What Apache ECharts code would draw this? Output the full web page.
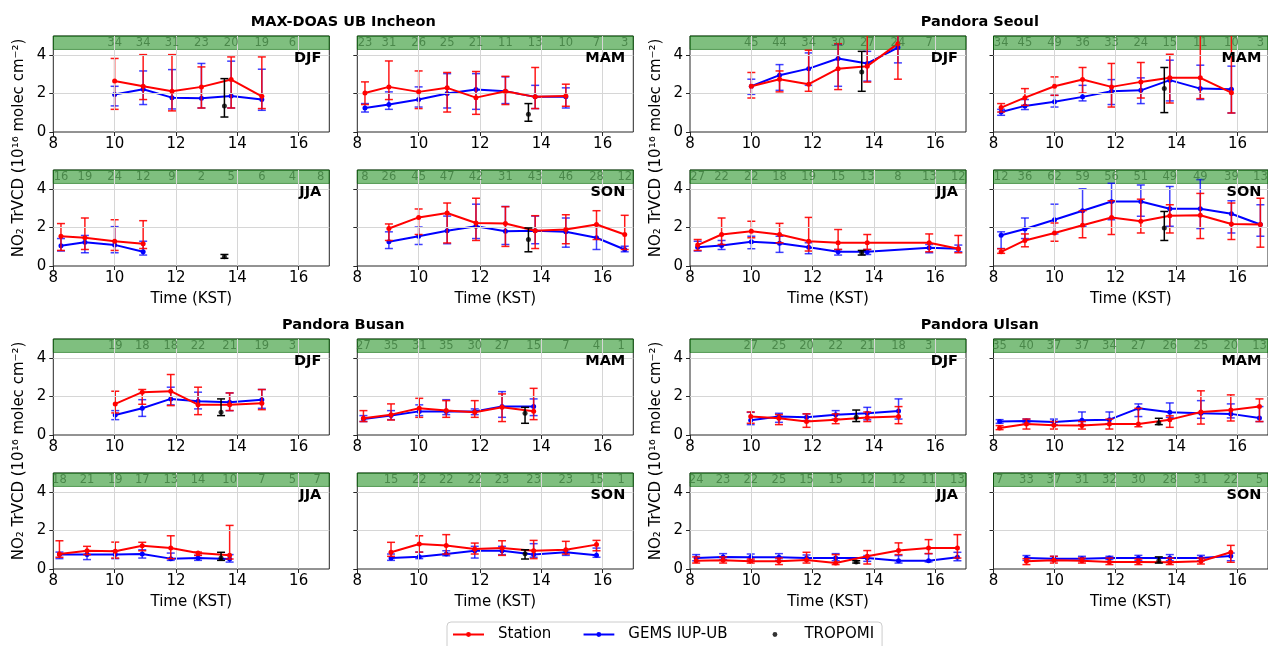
<!DOCTYPE html>
<html>
<head>
<meta charset="utf-8">
<title>NO2 TrVCD diurnal</title>
<script src="https://cdn.jsdelivr.net/npm/echarts@6/dist/echarts.min.js"></script>
<style>
  html, body { margin: 0; padding: 0; background: #fff; }
  #main { width: 1268px; height: 646px; }
</style>
</head>
<body>
<div id="main"></div>
<script>
// ---- data, each entry [mean, low, high] ----
const SITES = ['MAX-DOAS UB Incheon', 'Pandora Seoul', 'Pandora Busan', 'Pandora Ulsan'];
const SEASONS = ['DJF', 'MAM', 'JJA', 'SON'];
const X_TICKS = [8, 10, 12, 14, 16];
const Y_TICKS = [0, 2, 4];

const HOURS_INCHEON = [8.25, 9.03, 10.0, 10.93, 11.87, 12.83, 13.8, 14.8, 15.8, 16.72];
const HOURS_SEOUL = [8.25, 9.03, 10.0, 10.92, 11.87, 12.83, 13.78, 14.78, 15.8, 16.75];
const HOURS_BUSAN = [8.2, 9.1, 10.02, 10.9, 11.83, 12.72, 13.75, 14.8, 15.8, 16.6];
const HOURS_ULSAN = [8.2, 9.08, 9.98, 10.9, 11.8, 12.75, 13.78, 14.8, 15.78, 16.72];
const TROPOMI_HOUR = [13.58, 13.6, 13.47, 13.42];

const INCHEON_DJF_N = [null, null, 34, 34, 31, 23, 20, 19, 6, null];
const INCHEON_DJF_STATION = [null, null, [2.66, 1.18, 3.83], [2.38, 1.69, 4.03], [2.12, 1.10, 4.03], [2.35, 1.25, 3.39], [2.73, 1.25, 3.91], [1.86, 1.22, 3.91], null, null];
const INCHEON_DJF_GEMS = [null, null, [1.95, 1.36, 2.38], [2.23, 1.43, 3.18], [1.79, 1.20, 3.25], [1.76, 1.25, 3.57], [1.88, 1.25, 3.69], [1.69, 1.13, 3.27], null, null];
const INCHEON_DJF_TROPOMI = [1.36, 0.78, 2.78];

const INCHEON_MAM_N = [23, 31, 26, 25, 21, 11, 13, 10, 7, 3];
const INCHEON_MAM_STATION = [[2.03, 1.43, 2.61], [2.35, 1.69, 3.70], [2.09, 1.22, 3.18], [2.30, 1.04, 3.10], [1.79, 0.92, 3.15], [2.12, 1.43, 2.90], [1.83, 1.22, 3.36], [1.88, 1.34, 2.49], null, null];
const INCHEON_MAM_GEMS = [[1.25, 1.04, 1.48], [1.43, 1.18, 2.09], [1.69, 1.30, 2.35], [2.00, 1.25, 3.04], [2.21, 1.18, 3.04], [2.12, 1.48, 2.87], [1.83, 1.22, 2.43], [1.83, 1.25, 2.30], null, null];
const INCHEON_MAM_TROPOMI = [0.92, 0.56, 1.48];

const INCHEON_JJA_N = [16, 19, 24, 12, 9, 2, 5, 6, 4, 8];
const INCHEON_JJA_STATION = [[1.55, 0.81, 2.21], [1.47, 0.86, 2.50], [1.29, 0.81, 2.41], [1.16, 0.91, 2.36], null, null, null, null, null, null];
const INCHEON_JJA_GEMS = [[1.05, 0.78, 1.43], [1.24, 0.69, 1.59], [1.10, 0.69, 2.05], [0.74, 0.57, 1.29], null, null, null, null, null, null];
const INCHEON_JJA_TROPOMI = [0.48, 0.40, 0.60];

const INCHEON_SON_N = [8, 26, 45, 47, 42, 31, 43, 46, 28, 12];
const INCHEON_SON_STATION = [null, [1.95, 1.33, 2.19], [2.53, 1.64, 2.97], [2.76, 1.20, 3.28], [2.24, 1.33, 3.53], [2.21, 1.02, 3.09], [1.84, 0.91, 2.62], [1.90, 1.16, 2.67], [2.16, 1.38, 2.88], [1.64, 0.86, 2.64]];
const INCHEON_SON_GEMS = [null, [1.26, 0.91, 1.78], [1.55, 1.12, 2.03], [1.84, 1.16, 2.60], [2.07, 1.43, 3.22], [1.81, 1.12, 3.10], [1.84, 1.16, 2.60], [1.78, 0.98, 2.50], [1.47, 0.86, 2.12], [0.86, 0.74, 1.03]];
const INCHEON_SON_TROPOMI = [1.38, 0.74, 1.98];

const SEOUL_DJF_N = [null, null, 45, 44, 34, 30, 27, 24, 7, null];
const SEOUL_DJF_STATION = [null, null, [2.38, 1.77, 3.10], [2.75, 2.09, 3.18], [2.49, 2.12, 4.26], [3.30, 2.21, 4.60], [3.43, 2.60, 6.0], [4.60, 2.75, 6.5], null, null];
const SEOUL_DJF_GEMS = [null, null, [2.38, 1.96, 2.75], [2.96, 2.17, 3.51], [3.30, 2.43, 4.12], [3.83, 2.38, 4.55], [3.57, 2.65, 4.20], [4.40, 3.60, 5.20], null, null];
const SEOUL_DJF_TROPOMI = [3.13, 2.12, 4.20];

const SEOUL_MAM_N = [34, 45, 49, 36, 33, 24, 15, 11, 10, 3];
const SEOUL_MAM_STATION = [[1.27, 1.04, 1.48], [1.79, 1.39, 2.26], [2.38, 1.91, 2.87], [2.73, 2.03, 3.36], [2.35, 1.30, 3.57], [2.61, 1.77, 3.62], [2.83, 1.51, 4.05], [2.82, 1.74, 5.6], [2.05, 0.99, 5.6], null];
const SEOUL_MAM_GEMS = [[1.04, 0.87, 1.18], [1.36, 1.17, 1.69], [1.57, 1.30, 1.91], [1.83, 1.62, 2.43], [2.12, 1.43, 2.73], [2.17, 1.48, 2.82], [2.70, 1.62, 3.74], [2.26, 1.69, 3.48], [2.23, 0.99, 3.43], null];
const SEOUL_MAM_TROPOMI = [2.26, 1.01, 3.36];

const SEOUL_JJA_N = [27, 22, 22, 18, 19, 15, 13, 8, 13, 12];
const SEOUL_JJA_STATION = [[1.09, 0.81, 1.38], [1.64, 1.12, 2.50], [1.81, 1.47, 2.33], [1.64, 1.21, 2.22], [1.29, 0.78, 2.53], [1.21, 0.86, 1.90], [1.21, 0.86, 1.64], null, [1.21, 0.74, 1.67], [0.90, 0.69, 1.59]];
const SEOUL_JJA_GEMS = [[0.98, 0.78, 1.29], [1.07, 0.86, 1.33], [1.26, 0.90, 1.55], [1.19, 0.71, 1.55], [0.98, 0.64, 1.21], [0.74, 0.57, 0.86], [0.74, 0.60, 0.86], null, [0.95, 0.69, 1.12], [0.90, 0.74, 1.09]];
const SEOUL_JJA_TROPOMI = [0.69, 0.57, 0.81];

const SEOUL_SON_N = [12, 36, 62, 59, 56, 51, 49, 49, 39, 13];
const SEOUL_SON_STATION = [[0.74, 0.66, 0.90], [1.33, 1.00, 1.67], [1.72, 1.29, 2.24], [2.12, 1.47, 2.88], [2.53, 1.64, 3.40], [2.33, 1.72, 3.48], [2.62, 1.72, 3.19], [2.64, 1.43, 3.78], [2.19, 1.38, 3.28], [2.16, 0.98, 3.53]];
const SEOUL_SON_GEMS = [[1.60, 0.91, 1.78], [1.93, 1.43, 2.50], [2.41, 1.67, 3.22], [2.88, 2.07, 4.02], [3.36, 2.41, 4.31], [3.36, 2.59, 4.22], [2.98, 2.07, 4.14], [2.98, 1.95, 4.50], [2.72, 1.72, 3.40], [2.16, 1.55, 3.19]];
const SEOUL_SON_TROPOMI = [1.98, 1.33, 2.84];

const BUSAN_DJF_N = [null, null, 19, 18, 18, 22, 21, 19, 3, null];
const BUSAN_DJF_STATION = [null, null, [1.62, 1.15, 2.28], [2.23, 1.60, 2.37], [2.28, 1.53, 3.15], [1.58, 1.06, 2.49], [1.58, 1.27, 2.19], [1.65, 1.32, 2.37], null, null];
const BUSAN_DJF_GEMS = [null, null, [1.04, 0.80, 1.27], [1.39, 0.97, 1.84], [1.88, 1.57, 2.49], [1.76, 1.36, 2.23], [1.70, 1.27, 2.19], [1.83, 1.39, 2.37], null, null];
const BUSAN_DJF_TROPOMI = [1.18, 1.01, 1.88];

const BUSAN_MAM_N = [27, 35, 31, 35, 30, 27, 15, 7, 4, 1];
const BUSAN_MAM_STATION = [[0.87, 0.70, 1.27], [1.06, 0.78, 1.62], [1.39, 0.92, 1.91], [1.27, 0.92, 1.79], [1.18, 0.92, 1.79], [1.44, 0.70, 2.14], [1.24, 0.80, 2.43], null, null, null];
const BUSAN_MAM_GEMS = [[0.83, 0.70, 1.01], [1.01, 0.80, 1.27], [1.23, 1.01, 1.57], [1.22, 1.06, 1.84], [1.22, 1.06, 1.36], [1.48, 0.92, 2.26], [1.48, 1.01, 1.88], null, null, null];
const BUSAN_MAM_TROPOMI = [1.13, 0.61, 1.44];

const BUSAN_JJA_N = [18, 21, 19, 17, 13, 14, 10, 7, 5, 7];
const BUSAN_JJA_STATION = [[0.78, 0.61, 1.47], [0.95, 0.75, 1.18], [0.92, 0.57, 1.40], [1.21, 0.95, 1.39], [1.09, 0.54, 1.73], [0.83, 0.71, 0.88], [0.71, 0.52, 2.27], null, null, null];
const BUSAN_JJA_GEMS = [[0.75, 0.54, 0.88], [0.75, 0.49, 0.92], [0.75, 0.54, 0.95], [0.78, 0.57, 1.00], [0.54, 0.45, 0.83], [0.57, 0.45, 0.71], [0.52, 0.36, 0.75], null, null, null];
const BUSAN_JJA_TROPOMI = [0.57, 0.45, 0.87];

const BUSAN_SON_N = [null, 15, 22, 22, 22, 23, 23, 23, 15, 1];
const BUSAN_SON_STATION = [null, [0.87, 0.66, 1.39], [1.30, 0.88, 1.73], [1.23, 0.78, 1.79], [1.04, 0.78, 1.35], [1.09, 0.71, 1.47], [0.95, 0.54, 1.49], [1.00, 0.78, 1.44], [1.27, 0.95, 1.49], null];
const BUSAN_SON_GEMS = [null, [0.57, 0.45, 0.78], [0.64, 0.54, 0.88], [0.78, 0.69, 0.95], [0.95, 0.57, 1.18], [0.95, 0.75, 1.18], [0.75, 0.61, 1.32], [0.87, 0.71, 1.00], [0.71, 0.61, 1.09], null];
const BUSAN_SON_TROPOMI = [0.80, 0.52, 1.00];

const ULSAN_DJF_N = [null, null, 27, 25, 20, 22, 21, 18, 3, null];
const ULSAN_DJF_STATION = [null, null, [0.96, 0.61, 1.20], [0.87, 0.54, 1.06], [0.70, 0.40, 1.10], [0.79, 0.59, 1.10], [0.91, 0.70, 1.20], [0.97, 0.59, 1.48], null, null];
const ULSAN_DJF_GEMS = [null, null, [0.77, 0.54, 1.18], [0.96, 0.66, 1.13], [0.92, 0.75, 1.10], [1.06, 0.83, 1.27], [1.13, 0.79, 1.44], [1.25, 0.83, 1.88], null, null];
const ULSAN_DJF_TROPOMI = [0.92, 0.70, 1.30];

const ULSAN_MAM_N = [35, 40, 37, 37, 34, 27, 26, 25, 20, 13];
const ULSAN_MAM_STATION = [[0.37, 0.28, 0.49], [0.57, 0.31, 0.83], [0.51, 0.31, 0.70], [0.49, 0.31, 0.70], [0.57, 0.31, 0.83], [0.57, 0.43, 1.39], [0.80, 0.40, 1.00], [1.20, 0.57, 2.30], [1.30, 0.73, 2.09], [1.48, 0.70, 1.88]];
const ULSAN_MAM_GEMS = [[0.70, 0.61, 0.80], [0.73, 0.63, 0.83], [0.68, 0.54, 0.83], [0.77, 0.54, 1.20], [0.80, 0.59, 1.20], [1.39, 0.96, 1.62], [1.18, 0.92, 1.67], [1.13, 0.87, 1.79], [1.10, 0.89, 1.62], [0.89, 0.70, 1.48]];
const ULSAN_MAM_TROPOMI = [0.63, 0.54, 0.87];

const ULSAN_JJA_N = [24, 23, 22, 25, 15, 15, 12, 12, 11, 13];
const ULSAN_JJA_STATION = [[0.43, 0.31, 0.63], [0.45, 0.31, 0.63], [0.40, 0.31, 0.52], [0.40, 0.23, 0.57], [0.47, 0.31, 0.87], [0.31, 0.23, 0.75], [0.66, 0.26, 0.96], [0.96, 0.75, 1.36], [1.10, 0.80, 1.53], [1.10, 0.57, 1.79]];
const ULSAN_JJA_GEMS = [[0.57, 0.43, 0.75], [0.63, 0.49, 0.80], [0.61, 0.45, 0.78], [0.61, 0.45, 0.80], [0.57, 0.45, 0.73], [0.57, 0.43, 0.80], [0.57, 0.40, 0.70], [0.43, 0.31, 0.70], [0.43, 0.37, 0.80], [0.61, 0.43, 0.87]];
const ULSAN_JJA_TROPOMI = [0.37, 0.31, 0.43];

const ULSAN_SON_N = [7, 33, 37, 31, 32, 30, 28, 31, 22, 5];
const ULSAN_SON_STATION = [null, [0.40, 0.23, 0.54], [0.45, 0.31, 0.66], [0.43, 0.31, 0.57], [0.37, 0.23, 0.57], [0.37, 0.23, 0.52], [0.35, 0.23, 0.57], [0.40, 0.26, 0.57], [0.87, 0.35, 1.23], null];
const ULSAN_SON_GEMS = [null, [0.57, 0.45, 0.70], [0.54, 0.43, 0.66], [0.54, 0.43, 0.66], [0.57, 0.49, 0.66], [0.57, 0.43, 0.71], [0.57, 0.43, 0.75], [0.57, 0.43, 0.71], [0.68, 0.43, 0.83], null];
const ULSAN_SON_TROPOMI = [0.43, 0.31, 0.63];

// ---- assemble panels from the arrays above ----
const HOURS = [HOURS_INCHEON, HOURS_SEOUL, HOURS_BUSAN, HOURS_ULSAN];
const PANELS = [
  [INCHEON_DJF_N, INCHEON_DJF_STATION, INCHEON_DJF_GEMS, INCHEON_DJF_TROPOMI],
  [INCHEON_MAM_N, INCHEON_MAM_STATION, INCHEON_MAM_GEMS, INCHEON_MAM_TROPOMI],
  [INCHEON_JJA_N, INCHEON_JJA_STATION, INCHEON_JJA_GEMS, INCHEON_JJA_TROPOMI],
  [INCHEON_SON_N, INCHEON_SON_STATION, INCHEON_SON_GEMS, INCHEON_SON_TROPOMI],
  [SEOUL_DJF_N, SEOUL_DJF_STATION, SEOUL_DJF_GEMS, SEOUL_DJF_TROPOMI],
  [SEOUL_MAM_N, SEOUL_MAM_STATION, SEOUL_MAM_GEMS, SEOUL_MAM_TROPOMI],
  [SEOUL_JJA_N, SEOUL_JJA_STATION, SEOUL_JJA_GEMS, SEOUL_JJA_TROPOMI],
  [SEOUL_SON_N, SEOUL_SON_STATION, SEOUL_SON_GEMS, SEOUL_SON_TROPOMI],
  [BUSAN_DJF_N, BUSAN_DJF_STATION, BUSAN_DJF_GEMS, BUSAN_DJF_TROPOMI],
  [BUSAN_MAM_N, BUSAN_MAM_STATION, BUSAN_MAM_GEMS, BUSAN_MAM_TROPOMI],
  [BUSAN_JJA_N, BUSAN_JJA_STATION, BUSAN_JJA_GEMS, BUSAN_JJA_TROPOMI],
  [BUSAN_SON_N, BUSAN_SON_STATION, BUSAN_SON_GEMS, BUSAN_SON_TROPOMI],
  [ULSAN_DJF_N, ULSAN_DJF_STATION, ULSAN_DJF_GEMS, ULSAN_DJF_TROPOMI],
  [ULSAN_MAM_N, ULSAN_MAM_STATION, ULSAN_MAM_GEMS, ULSAN_MAM_TROPOMI],
  [ULSAN_JJA_N, ULSAN_JJA_STATION, ULSAN_JJA_GEMS, ULSAN_JJA_TROPOMI],
  [ULSAN_SON_N, ULSAN_SON_STATION, ULSAN_SON_GEMS, ULSAN_SON_TROPOMI]
];

// layout
const COL_LEFT = [53.3, 357.3, 690, 993.5];
const ROW_TOP = [36, 170, 339, 473];
const PW = 276, PH = 96;
const YMAX = 5, BAND_LO = 4.3, COUNT_Y = 4.62;
const FONT = "'DejaVu Sans', sans-serif";
const GRID_COLOR = '#d6d6d6';

function legendIcon(color, withLine) {
  const svg = '<svg xmlns="http://www.w3.org/2000/svg" width="40" height="14" viewBox="0 0 40 14">' +
    (withLine ? '<line x1="0" y1="7" x2="31" y2="7" stroke="' + color + '" stroke-width="2"/>' : '') +
    '<circle cx="15.5" cy="7" r="2.4" fill="' + color + '"/></svg>';
  return 'image://data:image/svg+xml;charset=utf-8,' + encodeURIComponent(svg);
}

function errorBars(color, opacity, width) {
  return function (params, api) {
    const x = api.value(0), lo = api.value(2), hi = api.value(3);
    const pLo = api.coord([x, lo]);
    const pHi = api.coord([x, Math.min(hi, YMAX)]);
    const st = { stroke: color, lineWidth: width, opacity: opacity };
    const kids = [
      { type: 'line', shape: { x1: pLo[0], y1: pLo[1], x2: pHi[0], y2: pHi[1] }, style: st },
      { type: 'line', shape: { x1: pLo[0] - 4, y1: pLo[1], x2: pLo[0] + 4, y2: pLo[1] }, style: st }
    ];
    if (hi <= YMAX) {
      kids.push({ type: 'line', shape: { x1: pHi[0] - 4, y1: pHi[1], x2: pHi[0] + 4, y2: pHi[1] }, style: st });
    }
    return { type: 'group', children: kids };
  };
}

const grid = [], xAxis = [], yAxis = [], series = [], graphic = [];

PANELS.forEach(function (p, i) {
  const site = Math.floor(i / 4), season = i % 4;
  const col = (site % 2) * 2 + (season % 2);
  const row = Math.floor(site / 2) * 2 + Math.floor(season / 2);
  const hours = HOURS[site];
  const [counts, stn, gems, tro] = p;
  const bottomRow = row % 2 === 1;
  const leftCol = col % 2 === 0;

  grid.push({ left: COL_LEFT[col], top: ROW_TOP[row], width: PW, height: PH,
    show: true, borderColor: '#262626', borderWidth: 1, backgroundColor: 'transparent' });

  xAxis.push({
    gridIndex: i, type: 'value', min: 8, max: 17, interval: 2,
    name: bottomRow ? 'Time (KST)' : '', nameLocation: 'middle', nameGap: 26,
    nameTextStyle: { fontSize: 15, color: '#000', fontFamily: FONT },
    axisLine: { show: false },
    axisTick: { show: true, length: 4, customValues: X_TICKS, lineStyle: { color: '#262626' } },
    axisLabel: { fontSize: 15, color: '#000', margin: 5, fontFamily: FONT, customValues: X_TICKS },
    splitLine: { show: false }
  });
  yAxis.push({
    gridIndex: i, type: 'value', min: 0, max: YMAX, interval: 2,
    axisLine: { show: false },
    axisTick: { show: true, length: 4, customValues: Y_TICKS, lineStyle: { color: '#262626' } },
    axisLabel: { show: leftCol, fontSize: 15, color: '#000', margin: 7, fontFamily: FONT, customValues: Y_TICKS },
    splitLine: { show: false }
  });

  // grid lines at the tick values
  series.push({ type: 'scatter', name: 'gridlines', xAxisIndex: i, yAxisIndex: i, z: 1, silent: true,
    data: [[8, 0]], symbolSize: 0,
    markLine: { silent: true, symbol: 'none', label: { show: false },
      lineStyle: { color: GRID_COLOR, width: 1, type: 'solid' },
      data: X_TICKS.slice(1).map(function (v) { return { xAxis: v }; })
        .concat(Y_TICKS.slice(1).map(function (v) { return { yAxis: v }; })) } });

  const pts = function (arr) {
    const out = [];
    arr.forEach(function (v, k) { if (v) out.push([hours[k], v[0], v[1], v[2]]); });
    return out;
  };
  const gemsPts = pts(gems), stnPts = pts(stn);

  series.push({ type: 'custom', name: 'gems-err', xAxisIndex: i, yAxisIndex: i, z: 2,
    renderItem: errorBars('#0000ff', 0.75, 1.5), data: gemsPts, silent: true });
  series.push({ type: 'line', name: 'GEMS IUP-UB', xAxisIndex: i, yAxisIndex: i, z: 3,
    data: gemsPts.map(function (d) { return [d[0], d[1]]; }),
    symbol: 'circle', symbolSize: 5, showSymbol: true,
    lineStyle: { color: '#0000ff', width: 2 }, itemStyle: { color: '#0000ff' } });
  series.push({ type: 'custom', name: 'station-err', xAxisIndex: i, yAxisIndex: i, z: 4,
    renderItem: errorBars('#ff0000', 0.9, 1.5), data: stnPts, silent: true });
  series.push({ type: 'line', name: 'Station', xAxisIndex: i, yAxisIndex: i, z: 5,
    data: stnPts.map(function (d) { return [d[0], d[1]]; }),
    symbol: 'circle', symbolSize: 5, showSymbol: true,
    lineStyle: { color: '#ff0000', width: 2 }, itemStyle: { color: '#ff0000' } });
  const troPt = [[TROPOMI_HOUR[site], tro[0], tro[1], tro[2]]];
  series.push({ type: 'custom', name: 'tropomi-err', xAxisIndex: i, yAxisIndex: i, z: 6,
    renderItem: errorBars('#000000', 1, 1.5), data: troPt, silent: true });
  series.push({ type: 'scatter', name: 'TROPOMI', xAxisIndex: i, yAxisIndex: i, z: 6,
    data: [[troPt[0][0], troPt[0][1]]], symbolSize: 5, itemStyle: { color: '#000' } });

  // green band with number of days per hour
  const countPts = [];
  counts.forEach(function (c, k) { if (c != null) countPts.push([hours[k], COUNT_Y, c]); });
  series.push({ type: 'scatter', name: 'count', xAxisIndex: i, yAxisIndex: i, z: 8, silent: true,
    data: countPts, symbolSize: 0,
    label: { show: true, position: 'inside', formatter: function (d) { return d.value[2]; },
      fontSize: 11.5, color: '#3d7a3d', fontFamily: FONT },
    markArea: { silent: true,
      itemStyle: { color: 'rgba(0,128,0,0.5)', borderColor: 'rgba(0,100,0,0.55)', borderWidth: 1 },
      data: [[{ xAxis: 8, yAxis: BAND_LO }, { xAxis: 17, yAxis: YMAX }]] } });

  graphic.push({ type: 'text', z: 100,
    x: COL_LEFT[col] + PW - 8, y: ROW_TOP[row] + 22,
    style: { text: SEASONS[season], fill: '#000',
      font: 'bold 14.5px ' + FONT, textAlign: 'right', textVerticalAlign: 'middle' } });
});

// site titles and y-axis titles
SITES.forEach(function (name, s) {
  const c0 = (s % 2) * 2, r0 = Math.floor(s / 2) * 2;
  const cx = (COL_LEFT[c0] + COL_LEFT[c0 + 1] + PW) / 2;
  graphic.push({ type: 'text', x: cx, y: ROW_TOP[r0] - 14,
    style: { text: name, font: 'bold 14.5px ' + FONT, fill: '#000', textAlign: 'center', textVerticalAlign: 'middle' } });
  const ly = (ROW_TOP[r0] + ROW_TOP[r0 + 1] + PH) / 2 - 3;
  graphic.push({ type: 'text', x: COL_LEFT[c0] - 34, y: ly, rotation: Math.PI / 2,
    style: { text: 'NO\u2082 TrVCD (10\u00b9\u2076 molec cm\u207b\u00b2)', font: '15px ' + FONT, fill: '#000',
      textAlign: 'center', textVerticalAlign: 'middle' } });
});

const chart = echarts.init(document.getElementById('main'), null, { renderer: 'canvas' });
chart.setOption({
  animation: false,
  textStyle: { fontFamily: FONT },
  grid: grid, xAxis: xAxis, yAxis: yAxis, series: series, graphic: graphic,
  legend: {
    left: 447, top: 622, itemWidth: 40, itemHeight: 14, itemGap: 32,
    padding: [5, 8, 8, 6], borderColor: '#cccccc', borderWidth: 1, borderRadius: 4,
    textStyle: { fontSize: 15, color: '#000', fontFamily: FONT },
    data: [
      { name: 'Station', icon: legendIcon('#ff0000', true) },
      { name: 'GEMS IUP-UB', icon: legendIcon('#0000ff', true) },
      { name: 'TROPOMI', icon: legendIcon('#000000', false) }
    ]
  }
});
</script>
</body>
</html>
